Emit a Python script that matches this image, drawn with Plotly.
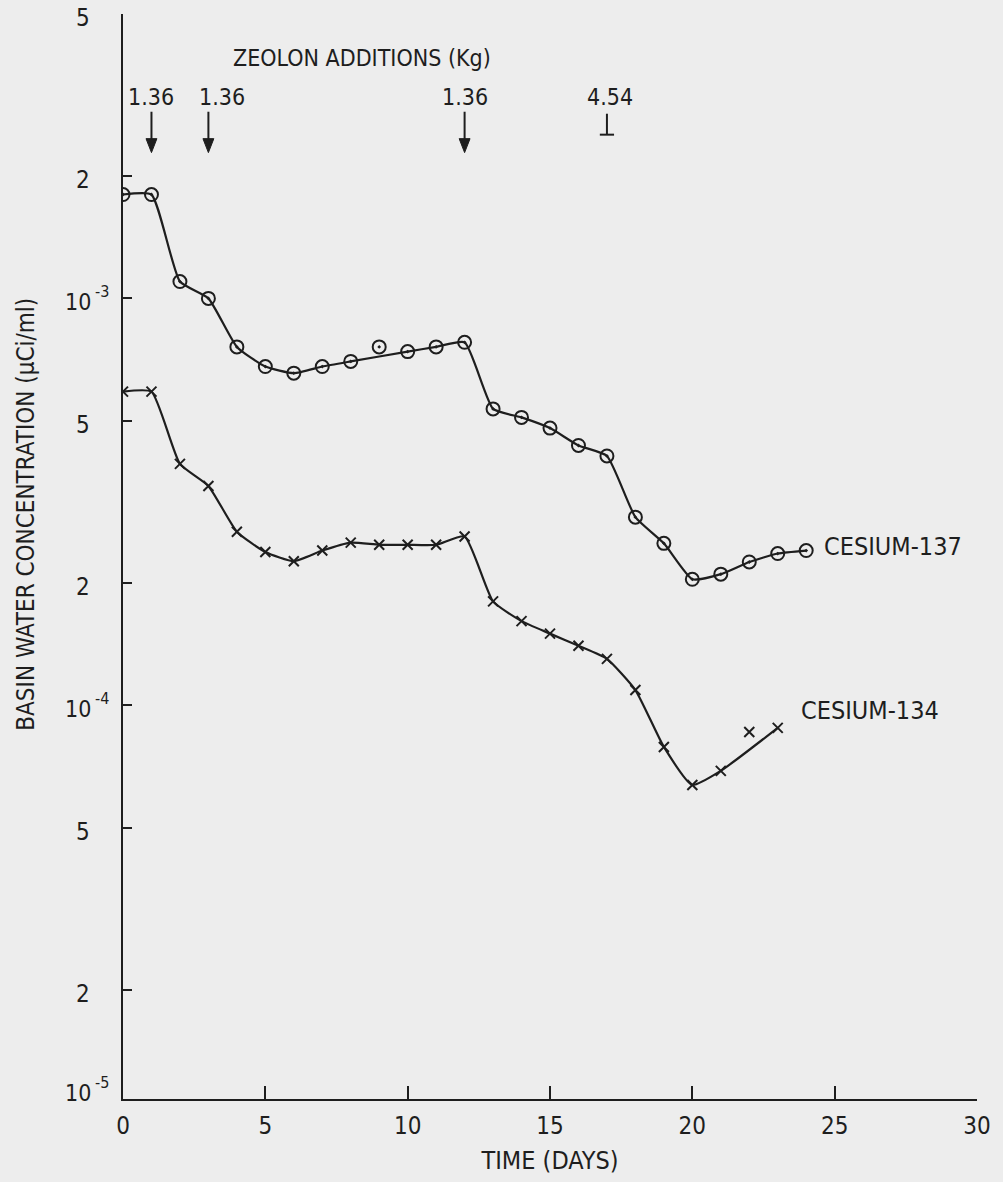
import numpy as np
import plotly.graph_objects as go

# ---------------- data ----------------
days_137 = list(range(25))
cs137 = [1.80e-3, 1.80e-3, 1.10e-3, 1.00e-3, 7.6e-4, 6.8e-4, 6.55e-4, 6.8e-4,
         7.0e-4, 7.6e-4, 7.4e-4, 7.6e-4, 7.8e-4, 5.35e-4, 5.1e-4, 4.8e-4,
         4.35e-4, 4.1e-4, 2.9e-4, 2.5e-4, 2.04e-4, 2.1e-4, 2.25e-4, 2.36e-4, 2.4e-4]
days_134 = list(range(24))
cs134 = [5.9e-4, 5.9e-4, 3.92e-4, 3.46e-4, 2.67e-4, 2.38e-4, 2.26e-4, 2.40e-4,
         2.51e-4, 2.48e-4, 2.48e-4, 2.48e-4, 2.60e-4, 1.80e-4, 1.61e-4, 1.50e-4,
         1.40e-4, 1.30e-4, 1.09e-4, 7.9e-5, 6.37e-5, 6.9e-5, 8.6e-5, 8.8e-5]
# points the hand-drawn curve does not pass through
off_curve_137 = [9]
off_curve_134 = [22]

addition_days = [1, 3, 12, 17]
addition_kg = ["1.36", "1.36", "1.36", "4.54"]
addition_arrow = [True, True, True, False]

x_tick_vals = [0, 5, 10, 15, 20, 25, 30]
y_tick_vals = [5e-3, 2e-3, 1e-3, 5e-4, 2e-4, 1e-4, 5e-5, 2e-5]
y_tick_base = ["5", "2", "10", "5", "2", "10", "5", "2"]
y_tick_exp = ["", "", "-3", "", "", "-4", "", ""]
y_bottom_base, y_bottom_exp = "10", "-5"

# ---------------- style ----------------
INK = "#1e1e1e"
BG = "#ededed"
FONT = "'Liberation Sans Narrow', 'DejaVu Sans Condensed', 'Roboto Condensed', 'Open Sans', sans-serif"

fig = go.Figure()

def curve(days, vals, skip):
    xs = [d for i, d in enumerate(days) if i not in skip]
    ys = [v for i, v in enumerate(vals) if i not in skip]
    return xs, ys

cx, cy = curve(days_137, cs137, off_curve_137)
fig.add_trace(go.Scatter(x=cx, y=cy, mode="lines",
                         line=dict(color=INK, width=2.2, shape="spline", smoothing=0.5),
                         hoverinfo="skip", showlegend=False))
fig.add_trace(go.Scatter(x=days_137, y=cs137, mode="markers", name="CESIUM-137",
                         marker=dict(symbol="circle-open-dot", size=13, color=INK,
                                     line=dict(width=2, color=INK)),
                         showlegend=False))

cx, cy = curve(days_134, cs134, off_curve_134)
fig.add_trace(go.Scatter(x=cx, y=cy, mode="lines",
                         line=dict(color=INK, width=2.2, shape="spline", smoothing=0.5),
                         hoverinfo="skip", showlegend=False))
fig.add_trace(go.Scatter(x=days_134, y=cs134, mode="markers", name="CESIUM-134",
                         marker=dict(symbol="x-thin-open", size=10, color=INK,
                                     line=dict(width=2, color=INK)),
                         showlegend=False))

# ---------------- layout ----------------
W, H = 1003, 1182
ML, MR, MT, MB = 123, 16, 14, 80
plot_h = H - MT - MB
plot_w = W - ML - MR

def py(pixel_y):
    """pixel row -> paper y"""
    return (H - MB - pixel_y) / plot_h

def px(pixel_x):
    return (pixel_x - ML) / plot_w

day_px = plot_w / 30.0

# y range: 5e-3 at top; the drawn x-axis sits slightly above 1e-5
y_top = np.log10(5e-3)
decade = 408.0
y_bot = y_top - plot_h / decade

fig.update_layout(
    width=W, height=H,
    margin=dict(l=ML, r=MR, t=MT, b=MB, pad=0),
    paper_bgcolor=BG, plot_bgcolor=BG,
    font=dict(family=FONT, color=INK, size=24),
    xaxis=dict(range=[0, 30], tickvals=x_tick_vals, ticks="inside", ticklen=13,
               tickwidth=2, tickcolor=INK, showline=True, linewidth=2, linecolor=INK,
               showgrid=False, zeroline=False, ticklabelstandoff=4,
               tickfont=dict(size=24),
               title=dict(text="TIME (DAYS)", font=dict(size=25), standoff=13)),
    yaxis=dict(type="log", range=[y_bot, y_top], tickvals=y_tick_vals,
               showticklabels=False,
               ticks="inside", ticklen=9, tickwidth=2, tickcolor=INK,
               showline=True, linewidth=2, linecolor=INK, showgrid=False,
               zeroline=False),
)

ann = []

def power_label(yref, yval, base, exp, yshift):
    ann.append(dict(text=base, xref="paper", yref=yref, x=px(62), y=yval,
                    xanchor="left", yanchor="middle", yshift=yshift,
                    showarrow=False, font=dict(size=23)))
    ann.append(dict(text=exp, xref="paper", yref=yref, x=px(93), y=yval,
                    xanchor="left", yanchor="middle", yshift=yshift + 11,
                    showarrow=False, font=dict(size=16)))

# y tick labels (digits centred under the "10", powers left-aligned)
for v, b, e in zip(y_tick_vals, y_tick_base, y_tick_exp):
    if e:
        power_label("y", np.log10(v), b, e, -4)
    else:
        ann.append(dict(text=b, xref="paper", yref="y", x=px(83), y=np.log10(v),
                        xanchor="center", yanchor="middle", yshift=-4,
                        showarrow=False, font=dict(size=24)))
# 10^-5 at the axis corner
power_label("paper", 0, y_bottom_base, y_bottom_exp, 6)

# y-axis title
ann.append(dict(text="BASIN WATER CONCENTRATION (µCi/ml)", textangle=-90,
                xref="paper", yref="paper", x=px(24), y=py(516),
                xanchor="center", yanchor="middle", showarrow=False,
                font=dict(size=24)))
# Zeolon header
ann.append(dict(text="ZEOLON ADDITIONS (Kg)", xref="paper", yref="paper",
                x=px(365), y=py(58), xanchor="center", yanchor="middle",
                showarrow=False, font=dict(size=23)))

label_dx = [0, 14, 0, 3]
head_half = 5.5 / day_px  # half-width of arrow head in days
for d, kg, arrow, dx in zip(addition_days, addition_kg, addition_arrow, label_dx):
    ann.append(dict(text=kg, x=d, xref="x", yref="paper", y=py(97),
                    xshift=dx, xanchor="center", yanchor="middle",
                    showarrow=False, font=dict(size=23)))
    if arrow:
        fig.add_shape(type="line", xref="x", yref="paper", x0=d, x1=d,
                      y0=py(112), y1=py(142), line=dict(color=INK, width=2))
        fig.add_shape(type="path", xref="x", yref="paper",
                      path=f"M {d - head_half},{py(139)} L {d + head_half},{py(139)} "
                           f"L {d},{py(153)} Z",
                      fillcolor=INK, line=dict(color=INK, width=1))
    else:
        fig.add_shape(type="line", xref="x", yref="paper", x0=d, x1=d,
                      y0=py(114), y1=py(135), line=dict(color=INK, width=2))
        fig.add_shape(type="line", xref="x", yref="paper", x0=d - 0.25, x1=d + 0.25,
                      y0=py(135), y1=py(135), line=dict(color=INK, width=2))

# series labels
ann.append(dict(text="CESIUM-137", x=days_137[-1], y=np.log10(cs137[-1]),
                xref="x", yref="y", xanchor="left", yanchor="middle",
                xshift=16, yshift=4, showarrow=False, font=dict(size=25)))
ann.append(dict(text="CESIUM-134", x=days_134[-1], y=np.log10(cs134[-1]),
                xref="x", yref="y", xanchor="left", yanchor="middle",
                xshift=21, yshift=17, showarrow=False, font=dict(size=25)))

fig.update_layout(annotations=ann)

fig.write_html("out.html")
